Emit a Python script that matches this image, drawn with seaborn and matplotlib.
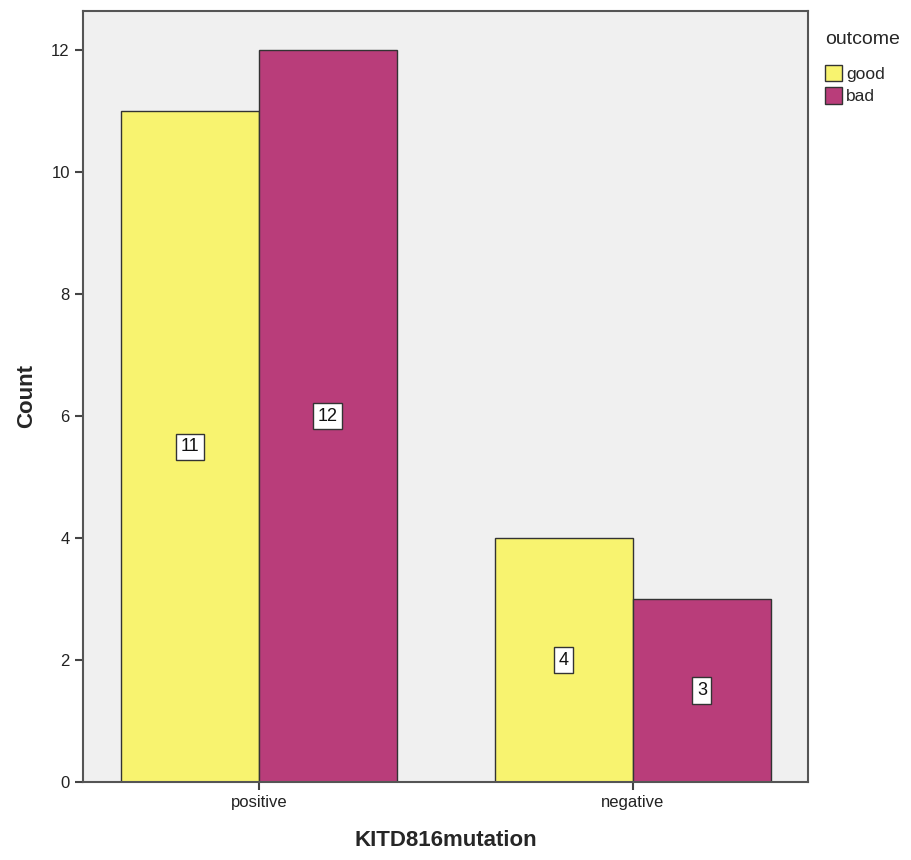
import pandas as pd
import matplotlib.pyplot as plt
import seaborn as sns
from matplotlib.patches import Patch

# values
mutation = ['positive', 'positive', 'negative', 'negative']
outcome = ['good', 'bad', 'good', 'bad']
counts = [11, 12, 4, 3]

palette = {'good': '#F8F36F', 'bad': '#B93D7A'}

df = pd.DataFrame({'KITD816mutation': mutation, 'outcome': outcome, 'Count': counts})

sns.set_style('white')
plt.rcParams['font.family'] = ['Liberation Sans', 'DejaVu Sans']

fig = plt.figure(figsize=(9.11, 8.6), dpi=100)
ax = fig.add_axes([83 / 911, 1 - 782 / 860, (808 - 83) / 911, (782 - 11) / 860])
ax.set_facecolor('#F0F0F0')

sns.barplot(data=df, x='KITD816mutation', y='Count', hue='outcome', palette=palette,
            order=['positive', 'negative'], hue_order=['good', 'bad'], saturation=1,
            width=0.738, edgecolor='#333333', linewidth=1.0, ax=ax, legend=False)

# boxed count labels at the middle of each bar
for cont in ax.containers:
    for bar in cont:
        h = bar.get_height()
        ax.text(bar.get_x() + bar.get_width() / 2, h / 2, f'{int(h)}', ha='center', va='center',
                fontsize=13, color='#111111',
                bbox=dict(boxstyle='square,pad=0.25', fc='white', ec='#333333', lw=1.0))

ax.set_xlim(-0.47, 1.468)
ax.set_ylim(0, 12.64)
ax.set_yticks([0, 2, 4, 6, 8, 10, 12])
ax.tick_params(axis='both', direction='out', length=6, width=1.5, color='#444444',
               labelsize=12, labelcolor='#222222', left=True, bottom=True)
for s in ax.spines.values():
    s.set_color('#555555')
    s.set_linewidth(1.5)

ax.set_xlabel('KITD816mutation', fontsize=16, fontweight='bold', labelpad=14)
ax.set_ylabel('Count', fontsize=16, fontweight='bold', labelpad=10)

# legend outside the axes, on the right
handles = [Patch(facecolor=palette[k], edgecolor='#333333', label=k) for k in ['good', 'bad']]
leg = fig.legend(handles=handles, title='outcome', loc='upper left', bbox_to_anchor=(818 / 911, 1 - 24 / 860),
                 frameon=False, fontsize=12.5, title_fontsize=14, handlelength=1.0, handleheight=1.1,
                 handletextpad=0.2, labelspacing=0.3, borderaxespad=0)
leg._legend_box.align = 'left'
leg._legend_box.sep = 12

fig.savefig('out.png', dpi=100)
